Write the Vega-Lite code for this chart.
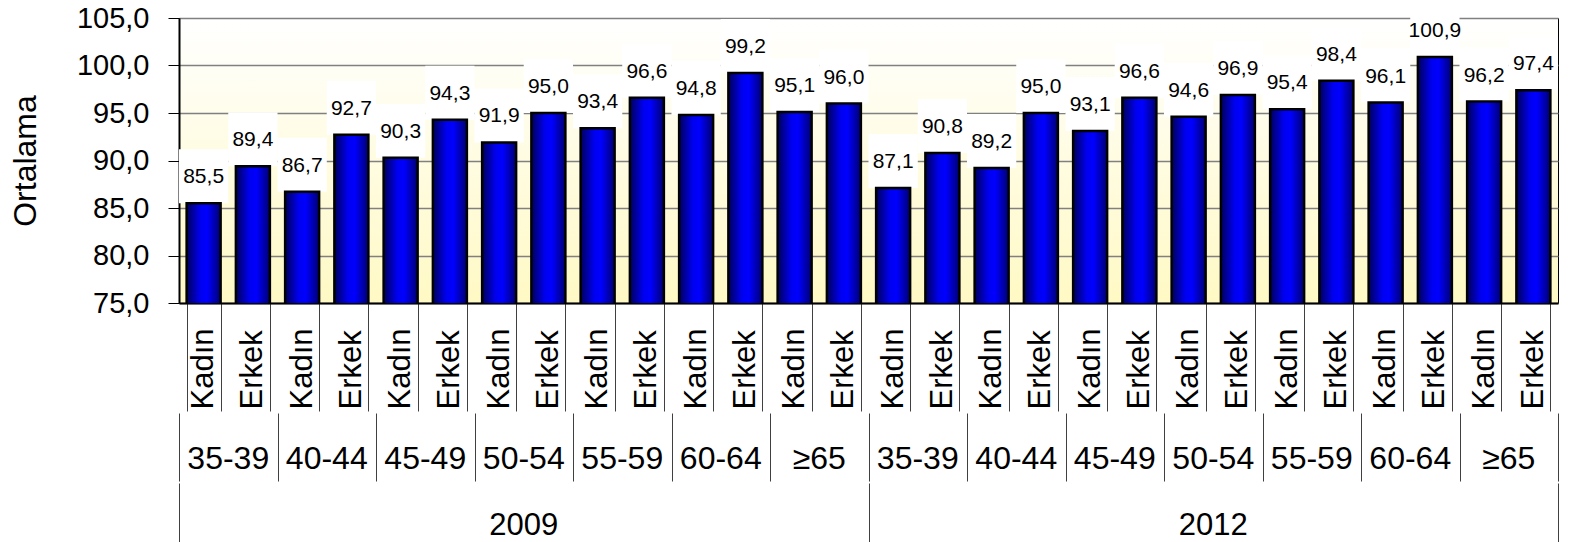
{
  "$schema": "https://vega.github.io/schema/vega-lite/v6.json",
  "padding": {"left": 8, "top": 2, "right": 0, "bottom": 0},
  "spacing": 0,
  "config": {
    "font": "Liberation Sans",
    "locale": {"number": {"decimal": ",", "thousands": ".", "grouping": [3], "currency": ["", ""]}},
    "concat": {"spacing": 0}
  },
  "datasets": {
    "bars": [
      {"key": "2009 35-39 Kadın", "year": "2009", "age": "35-39", "sex": "Kadın", "value": 85.5},
      {"key": "2009 35-39 Erkek", "year": "2009", "age": "35-39", "sex": "Erkek", "value": 89.4},
      {"key": "2009 40-44 Kadın", "year": "2009", "age": "40-44", "sex": "Kadın", "value": 86.7},
      {"key": "2009 40-44 Erkek", "year": "2009", "age": "40-44", "sex": "Erkek", "value": 92.7},
      {"key": "2009 45-49 Kadın", "year": "2009", "age": "45-49", "sex": "Kadın", "value": 90.3},
      {"key": "2009 45-49 Erkek", "year": "2009", "age": "45-49", "sex": "Erkek", "value": 94.3},
      {"key": "2009 50-54 Kadın", "year": "2009", "age": "50-54", "sex": "Kadın", "value": 91.9},
      {"key": "2009 50-54 Erkek", "year": "2009", "age": "50-54", "sex": "Erkek", "value": 95.0},
      {"key": "2009 55-59 Kadın", "year": "2009", "age": "55-59", "sex": "Kadın", "value": 93.4},
      {"key": "2009 55-59 Erkek", "year": "2009", "age": "55-59", "sex": "Erkek", "value": 96.6},
      {"key": "2009 60-64 Kadın", "year": "2009", "age": "60-64", "sex": "Kadın", "value": 94.8},
      {"key": "2009 60-64 Erkek", "year": "2009", "age": "60-64", "sex": "Erkek", "value": 99.2},
      {"key": "2009 ≥65 Kadın", "year": "2009", "age": "≥65", "sex": "Kadın", "value": 95.1},
      {"key": "2009 ≥65 Erkek", "year": "2009", "age": "≥65", "sex": "Erkek", "value": 96.0},
      {"key": "2012 35-39 Kadın", "year": "2012", "age": "35-39", "sex": "Kadın", "value": 87.1},
      {"key": "2012 35-39 Erkek", "year": "2012", "age": "35-39", "sex": "Erkek", "value": 90.8},
      {"key": "2012 40-44 Kadın", "year": "2012", "age": "40-44", "sex": "Kadın", "value": 89.2},
      {"key": "2012 40-44 Erkek", "year": "2012", "age": "40-44", "sex": "Erkek", "value": 95.0},
      {"key": "2012 45-49 Kadın", "year": "2012", "age": "45-49", "sex": "Kadın", "value": 93.1},
      {"key": "2012 45-49 Erkek", "year": "2012", "age": "45-49", "sex": "Erkek", "value": 96.6},
      {"key": "2012 50-54 Kadın", "year": "2012", "age": "50-54", "sex": "Kadın", "value": 94.6},
      {"key": "2012 50-54 Erkek", "year": "2012", "age": "50-54", "sex": "Erkek", "value": 96.9},
      {"key": "2012 55-59 Kadın", "year": "2012", "age": "55-59", "sex": "Kadın", "value": 95.4},
      {"key": "2012 55-59 Erkek", "year": "2012", "age": "55-59", "sex": "Erkek", "value": 98.4},
      {"key": "2012 60-64 Kadın", "year": "2012", "age": "60-64", "sex": "Kadın", "value": 96.1},
      {"key": "2012 60-64 Erkek", "year": "2012", "age": "60-64", "sex": "Erkek", "value": 100.9},
      {"key": "2012 ≥65 Kadın", "year": "2012", "age": "≥65", "sex": "Kadın", "value": 96.2},
      {"key": "2012 ≥65 Erkek", "year": "2012", "age": "≥65", "sex": "Erkek", "value": 97.4}
    ],
    "ages": [
      {"grp": "2009 35-39", "age": "35-39"},
      {"grp": "2009 40-44", "age": "40-44"},
      {"grp": "2009 45-49", "age": "45-49"},
      {"grp": "2009 50-54", "age": "50-54"},
      {"grp": "2009 55-59", "age": "55-59"},
      {"grp": "2009 60-64", "age": "60-64"},
      {"grp": "2009 ≥65", "age": "≥65"},
      {"grp": "2012 35-39", "age": "35-39"},
      {"grp": "2012 40-44", "age": "40-44"},
      {"grp": "2012 45-49", "age": "45-49"},
      {"grp": "2012 50-54", "age": "50-54"},
      {"grp": "2012 55-59", "age": "55-59"},
      {"grp": "2012 60-64", "age": "60-64"},
      {"grp": "2012 ≥65", "age": "≥65"}
    ],
    "years": [
      {"year": "2009"},
      {"year": "2012"}
    ]
  },
  "vconcat": [
    {
      "width": 1379,
      "height": 285,
      "data": {"name": "bars"},
      "view": {
        "stroke": "#000000",
        "strokeWidth": 1,
        "fill": {
          "gradient": "linear",
          "x1": 0, "y1": 0, "x2": 0, "y2": 1,
          "stops": [
            {"offset": 0, "color": "#ffffff"},
            {"offset": 1, "color": "#fff9c4"}
          ]
        }
      },
      "encoding": {
        "x": {
          "field": "key",
          "type": "nominal",
          "sort": null,
          "scale": {"paddingInner": 0.31, "paddingOuter": 0.155},
          "axis": {
            "title": null,
            "domainColor": "#000000",
            "domainWidth": 2,
            "tickBand": "extent",
            "tickSize": 108,
            "tickColor": "#404040",
            "tickWidth": 1,
            "labelExpr": "split(datum.label, ' ')[2]",
            "labelAngle": 270,
            "labelAlign": "left",
            "labelBaseline": "middle",
            "labelPadding": -2,
            "labelFontSize": 31,
            "labelColor": "#000000",
            "labelOverlap": false,
            "labelBound": false
          }
        },
        "y": {
          "field": "value",
          "type": "quantitative",
          "scale": {"domain": [75, 105], "nice": false, "zero": false},
          "axis": {
            "title": "Ortalama",
            "titleFontSize": 32,
            "titleFontWeight": "normal",
            "titleColor": "#000000",
            "titlePadding": 34,
            "values": [75, 80, 85, 90, 95, 100, 105],
            "format": ".1f",
            "labelFontSize": 29,
            "labelColor": "#000000",
            "labelPadding": 19,
            "tickSize": 11,
            "tickColor": "#000000",
            "domainColor": "#000000",
            "domainWidth": 2,
            "gridColor": "#808080",
            "gridWidth": 1.5
          }
        }
      },
      "layer": [
        {
          "mark": {"type": "bar", "fill": "#ffffff", "width": {"band": 1.45}, "y2Offset": -54},
          "encoding": {"y2": {"field": "value"}}
        },
        {
          "mark": {
            "type": "bar",
            "clip": true,
            "stroke": "#000000",
            "strokeWidth": 2.5,
            "fill": {
              "gradient": "linear",
              "x1": 0, "y1": 0, "x2": 1, "y2": 0,
              "stops": [
                {"offset": 0, "color": "#00005a"},
                {"offset": 0.4, "color": "#0000f0"},
                {"offset": 0.6, "color": "#0000ff"},
                {"offset": 1, "color": "#000070"}
              ]
            }
          }
        },
        {
          "mark": {"type": "text", "fontSize": 21, "baseline": "alphabetic", "dy": -20, "color": "#000000"},
          "encoding": {"text": {"field": "value", "type": "quantitative", "format": ".1f"}}
        }
      ]
    },
    {
      "width": 1379,
      "height": 68,
      "data": {"name": "ages"},
      "view": {"stroke": null},
      "mark": {"type": "text", "fontSize": 32, "dy": 12, "color": "#000000"},
      "encoding": {
        "x": {
          "field": "grp",
          "type": "nominal",
          "sort": null,
          "scale": {"paddingInner": 0, "paddingOuter": 0},
          "axis": {
            "title": null,
            "orient": "bottom",
            "offset": -68,
            "domain": false,
            "labels": false,
            "tickBand": "extent",
            "tickSize": 68,
            "tickColor": "#404040",
            "tickWidth": 1
          }
        },
        "text": {"field": "age"}
      }
    },
    {
      "width": 1379,
      "height": 65,
      "data": {"name": "years"},
      "view": {"stroke": null},
      "mark": {"type": "text", "fontSize": 31, "dy": 10, "color": "#000000"},
      "encoding": {
        "x": {
          "field": "year",
          "type": "nominal",
          "sort": null,
          "scale": {"paddingInner": 0, "paddingOuter": 0},
          "axis": {
            "title": null,
            "orient": "bottom",
            "offset": -65,
            "domain": false,
            "labels": false,
            "tickBand": "extent",
            "tickSize": 65,
            "tickColor": "#404040",
            "tickWidth": 1
          }
        },
        "text": {"field": "year"}
      }
    }
  ]
}
